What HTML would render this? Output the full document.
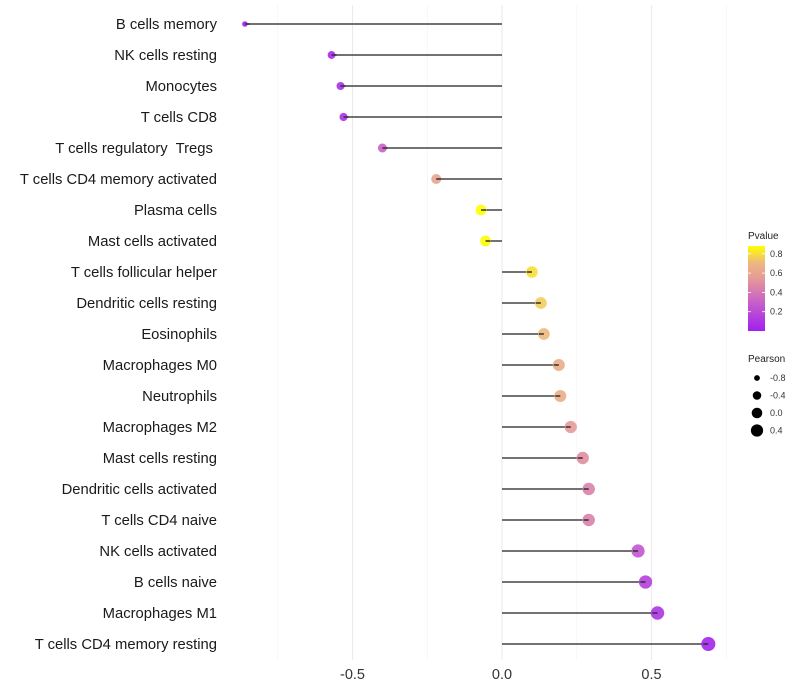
<!DOCTYPE html>
<html><head><meta charset="utf-8"><style>
body{margin:0;background:#fff;font-family:"Liberation Sans",sans-serif}
svg{display:block}
text{white-space:pre}
</style></head><body>
<svg id="chart" width="800" height="700" xmlns="http://www.w3.org/2000/svg">
<defs><linearGradient id="pg" x1="0" y1="1" x2="0" y2="0">
<stop offset="0" stop-color="#A020F0"/><stop offset="0.34" stop-color="#C860C8"/><stop offset="0.62" stop-color="#E59A98"/><stop offset="0.8" stop-color="#EDB880"/><stop offset="1" stop-color="#FFFF00"/></linearGradient></defs>
<g id="grid"></g><g id="marks"></g><g id="ylabels"></g><g id="xlabels"></g>
<g>
<text x="748" y="239" font-size="10" fill="#222">Pvalue</text>
<rect x="748" y="246" width="17" height="85" fill="url(#pg)"/>
<g id="cbticks"></g>
</g>
<g id="sizeleg">
<text x="748" y="362" font-size="10" fill="#222">Pearson</text>
</g>
</svg>
<script>
const categories=["B cells memory","NK cells resting","Monocytes","T cells CD8","T cells regulatory  Tregs ","T cells CD4 memory activated","Plasma cells","Mast cells activated","T cells follicular helper","Dendritic cells resting","Eosinophils","Macrophages M0","Neutrophils","Macrophages M2","Mast cells resting","Dendritic cells activated","T cells CD4 naive","NK cells activated","B cells naive","Macrophages M1","T cells CD4 memory resting"];
const pearson=[-0.86,-0.57,-0.54,-0.53,-0.40,-0.22,-0.07,-0.055,0.10,0.13,0.14,0.19,0.195,0.23,0.27,0.29,0.29,0.455,0.48,0.52,0.69];
const pvalue=[0.01,0.05,0.08,0.08,0.3,0.6,0.88,0.87,0.8,0.75,0.7,0.65,0.65,0.55,0.5,0.45,0.45,0.25,0.15,0.1,0.03];
const xTicks=[-0.5,0,0.5];
const xTickLabels=["-0.5","0.0","0.5"];
const cbTicks=[0.2,0.4,0.6,0.8];
const sizeLegend=[-0.8,-0.4,0.0,0.4];
const NS="http://www.w3.org/2000/svg";
const x=v=>502+v*299;
const y=i=>24+i*31;
const r=v=>Math.sqrt(Math.max(4,31+27*v));
const stops=[[0,[160,32,240]],[0.3,[200,96,200]],[0.55,[229,154,152]],[0.7,[237,184,128]],[0.88,[255,255,0]]];
function col(p){p=Math.max(0,Math.min(0.88,p));for(let k=1;k<stops.length;k++){if(p<=stops[k][0]){const a=stops[k-1],b=stops[k],t=(p-a[0])/(b[0]-a[0]);const c=a[1].map((v,j)=>Math.round(v+(b[1][j]-v)*t));return `rgb(${c})`;}}return "rgb(255,255,0)";}
function mk(tag,attrs,parent){const e=document.createElementNS(NS,tag);for(const k in attrs)e.setAttribute(k,attrs[k]);parent.appendChild(e);return e;}
const grid=document.getElementById('grid'),marks=document.getElementById('marks'),yl=document.getElementById('ylabels'),xl=document.getElementById('xlabels');
[-0.75,-0.25,0.25,0.75].forEach(v=>{const l=mk('line',{x1:x(v),x2:x(v),y1:5,y2:660,stroke:'#f2f2f2','stroke-width':0.6},grid);

});
xTicks.forEach((v,i)=>{const l=mk('line',{x1:x(v),x2:x(v),y1:5,y2:660,stroke:'#ebebeb','stroke-width':1.1},grid);


const t=mk('text',{x:x(v),y:679,'font-size':14.5,fill:'#333','text-anchor':'middle'},xl);t.textContent=xTickLabels[i];

});
categories.forEach((c,i)=>{
const t=mk('text',{x:217,y:y(i)+5,'font-size':14.8,fill:'#1a1a1a','text-anchor':'end'},yl);t.textContent=c;


const s=mk('line',{x1:x(0),x2:x(pearson[i]),y1:y(i),y2:y(i),stroke:'#444','stroke-width':1.5},marks);


const p=mk('circle',{cx:x(pearson[i]),cy:y(i),r:r(pearson[i]),fill:col(pvalue[i]),'fill-opacity':0.9},marks);


mk('line',{x1:x(pearson[i]),x2:x(pearson[i])+(pearson[i]<0?5:-5),y1:y(i),y2:y(i),stroke:'#333','stroke-width':1.5},marks);
});
const cb=document.getElementById('cbticks');
cbTicks.forEach(v=>{const yy=331-v/0.2*19.3;
mk('line',{x1:748,x2:751,y1:yy,y2:yy,stroke:'#fff','stroke-width':0.8},cb);mk('line',{x1:762,x2:765,y1:yy,y2:yy,stroke:'#fff','stroke-width':0.8},cb);
const t=mk('text',{x:770,y:yy+3,'font-size':9,fill:'#333'},cb);t.textContent=v.toFixed(1);

});
const sl=document.getElementById('sizeleg');
sizeLegend.forEach((v,i)=>{const yy=378+i*17.5;
const c=mk('circle',{cx:757,cy:yy,r:r(v)*0.95,fill:'#000'},sl);


const t=mk('text',{x:770,y:yy+3,'font-size':9,fill:'#333'},sl);t.textContent=v.toFixed(1);

});
</script>
</body></html>
